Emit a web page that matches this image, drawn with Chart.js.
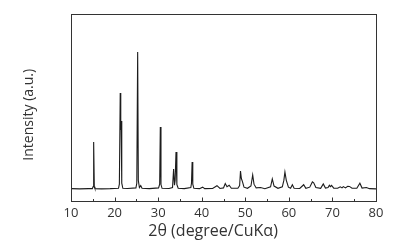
<!DOCTYPE html>
<html>
<head>
<meta charset="utf-8">
<script src="https://cdn.jsdelivr.net/npm/chart.js@4"></script>
<style>
  html, body { margin: 0; padding: 0; background: #fff; }
  #wrap { width: 415px; height: 248px; }
</style>
</head>
<body>
<div id="wrap"><canvas id="xrd"></canvas></div>
<script>
// XRD pattern (intensity in arbitrary units, 0..1000)
const twoTheta = [
  10, 12, 14, 14.9, 15.05, 15.2, 15.35, 15.5,
  17, 19, 20.9, 21.1, 21.3, 21.42, 21.5, 21.65, 21.9,
  23, 24.9, 25.1, 25.3, 25.45, 25.7, 26.0, 26.3,
  28, 30.1, 30.35, 30.5, 30.65, 30.9,
  32.5, 33.3, 33.55, 33.75, 33.9, 34.1, 34.3, 34.6,
  36, 37.5, 37.65, 37.8, 37.95, 38.2,
  39.5, 40.2, 40.7, 42.5, 43.5, 44.2,
  45.0, 45.4, 45.8, 46.3, 46.8,
  48.3, 48.7, 48.9, 49.1, 49.35, 49.7, 50.5,
  51.3, 51.7, 52.0, 52.5, 53.5, 54.5,
  55.8, 56.2, 56.6, 57.5,
  58.5, 58.85, 59.1, 59.4, 59.9, 60.4, 60.8, 61.2,
  62.5, 63.4, 63.9, 64.8, 65.4, 65.7, 66.2, 67.3, 67.9, 68.4,
  69.0, 69.3, 69.55, 69.8, 70.3, 71.2, 71.8, 72.2, 72.5, 73.0, 73.5, 73.9, 74.5,
  75.6, 76.3, 76.8, 77.8, 78.5, 80
];
const intensity = [
  66, 65, 66, 66, 76, 316, 76, 66,
  65, 66, 68, 90, 578, 380, 428, 95, 68,
  67, 70, 95, 797, 110, 72, 82, 68,
  66, 70, 90, 396, 88, 68,
  67, 72, 171, 84, 110, 262, 88, 68,
  66, 72, 95, 209, 90, 68,
  66, 74, 66, 67, 82, 67,
  70, 93, 76, 84, 68,
  68, 82, 160, 120, 104, 74, 68,
  80, 139, 90, 70, 72, 66,
  76, 118, 80, 68,
  76, 110, 155, 112, 74, 68, 87, 68,
  67, 87, 68, 74, 102, 97, 72, 68, 91, 69,
  72, 84, 77, 84, 69, 68, 76, 70, 77, 70, 79, 78, 68,
  68, 95, 69, 72, 66, 65
];
const xTickValues = [10, 20, 30, 40, 50, 60, 70, 80];
const xMinorValues = [15, 25, 35, 45, 55, 65, 75];

const points = twoTheta.map((t, i) => ({ x: t, y: intensity[i] }));

// frame round the plot and inward tick marks on the bottom axis
const frameAndTicks = {
  id: 'frameAndTicks',
  afterDatasetsDraw(chart) {
    const ctx = chart.ctx;
    const a = chart.chartArea;
    const xs = chart.scales.x;
    ctx.save();
    ctx.strokeStyle = '#333';
    ctx.lineWidth = 1;
    ctx.strokeRect(Math.round(a.left) + 0.5, Math.round(a.top) + 0.5,
      Math.round(a.right - a.left), Math.round(a.bottom - a.top));
    const bottom = Math.round(a.bottom) + 0.5;
    ctx.beginPath();
    xTickValues.forEach(v => {
      const px = Math.round(xs.getPixelForValue(v)) + 0.5;
      ctx.moveTo(px, bottom);
      ctx.lineTo(px, bottom - 4);
    });
    xMinorValues.forEach(v => {
      const px = Math.round(xs.getPixelForValue(v)) + 0.5;
      ctx.moveTo(px, bottom);
      ctx.lineTo(px, bottom - 2.5);
    });
    ctx.stroke();
    ctx.restore();
  }
};

const nb = '\u00a0';

new Chart(document.getElementById('xrd'), {
  type: 'line',
  data: {
    datasets: [{
      data: points,
      borderColor: '#1c1c1c',
      borderWidth: 1.1,
      pointRadius: 0,
      tension: 0,
      fill: false
    }]
  },
  options: {
    responsive: true,
    maintainAspectRatio: false,
    animation: false,
    layout: { padding: { top: 14, right: 39, left: 0, bottom: 0 } },
    plugins: { legend: { display: false }, tooltip: { enabled: false } },
    scales: {
      x: {
        type: 'linear',
        min: 10,
        max: 80,
        afterFit(scale) { scale.height = 47; },
        afterBuildTicks(scale) { scale.ticks = xTickValues.map(v => ({ value: v })); },
        grid: { display: false, drawTicks: false },
        border: { display: false },
        ticks: {
          color: '#333',
          padding: 4,
          maxRotation: 0,
          font: { family: 'Open Sans', size: 13 }
        },
        title: {
          display: true,
          text: '2θ (degree/CuKα)' + nb.repeat(5),
          color: '#333',
          padding: { top: 0, bottom: 7 },
          font: { family: 'Open Sans', size: 16 }
        }
      },
      y: {
        min: 0,
        max: 1000,
        afterFit(scale) { scale.width = 71; },
        grid: { display: false, drawTicks: false },
        border: { display: false },
        ticks: { display: false },
        title: {
          display: true,
          text: 'Intensity (a.u.)' + nb.repeat(4),
          color: '#333',
          padding: { top: 21, bottom: 0 },
          font: { family: 'Open Sans', size: 14 }
        }
      }
    }
  },
  plugins: [frameAndTicks]
});
</script>
</body>
</html>
